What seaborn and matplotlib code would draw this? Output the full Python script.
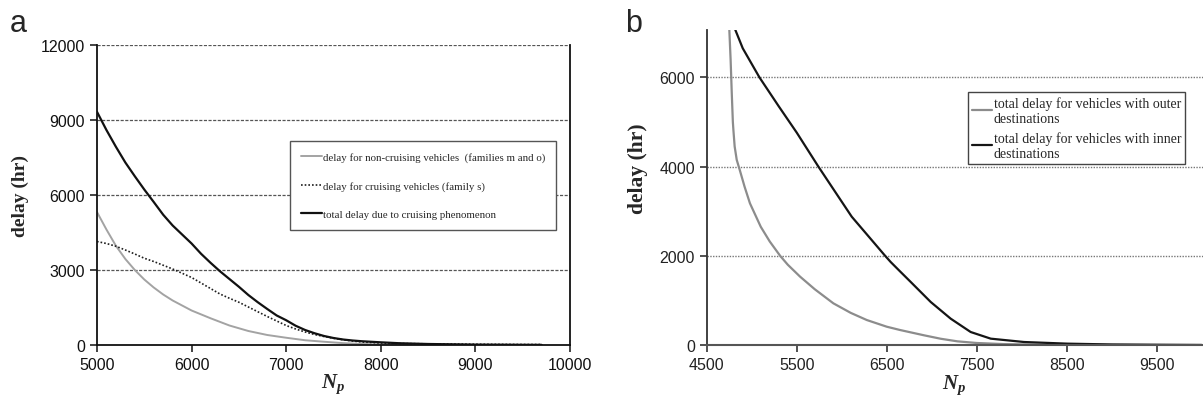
import matplotlib
matplotlib.use("Agg")
import matplotlib.pyplot as plt
import seaborn as sns
import pandas as pd

# ---------------- data: panel a ----------------
np_gray_a = [5000, 5100, 5200, 5300, 5400, 5500, 5600, 5700, 5800, 6000, 6200, 6400,
             6600, 6800, 7000, 7200, 7400, 7600, 7800, 8000, 8500, 9000, 9700]
delay_noncruise = [5320, 4620, 3970, 3440, 3000, 2620, 2300, 2020, 1780, 1380, 1070, 780,
                   560, 400, 290, 190, 130, 75, 40, 20, 6, 2, 0]

np_dot_a = [5000, 5100, 5200, 5300, 5400, 5500, 5600, 5700, 5800, 5900, 6000, 6100, 6200,
            6300, 6400, 6500, 6600, 6700, 6800, 6900, 7000, 7100, 7200, 7300, 7400, 7500,
            7600, 7700, 7800, 8000, 8200, 8500, 9000, 9500, 9700]
delay_cruise = [4140, 4060, 3950, 3800, 3640, 3470, 3340, 3190, 3040, 2870, 2700, 2480, 2260,
                2040, 1870, 1710, 1520, 1330, 1140, 960, 780, 640, 520, 420, 340, 270,
                210, 160, 120, 80, 60, 45, 30, 20, 20]

np_tot_a = [5000, 5100, 5200, 5300, 5400, 5500, 5600, 5700, 5800, 5900, 6000, 6100, 6200,
            6300, 6400, 6500, 6600, 6700, 6800, 6900, 7000, 7100, 7200, 7300, 7400, 7500,
            7600, 7700, 7800, 8000, 8200, 8500, 9000, 9700]
delay_total = [9330, 8600, 7930, 7300, 6750, 6220, 5720, 5210, 4780, 4420, 4060, 3650, 3290,
               2950, 2640, 2330, 2000, 1710, 1440, 1180, 990, 770, 600, 470, 360, 280,
               220, 180, 150, 107, 70, 40, 15, 5]

labels_a = ["delay for non-cruising vehicles  (families m and o)",
            "delay for cruising vehicles (family s)",
            "total delay due to cruising phenomenon"]

# ---------------- data: panel b ----------------
np_outer = [4750, 4765, 4778, 4790, 4796, 4810, 4833, 4870, 4920, 4980, 5100, 5200, 5315,
            5400, 5537, 5700, 5907, 6100, 6278, 6500, 6648, 6915, 7100, 7285, 7500, 7800,
            8200, 8600, 9000, 10000]
delay_outer = [7100, 6400, 5640, 5000, 4820, 4450, 4150, 3900, 3550, 3175, 2650, 2320, 2000,
               1800, 1532, 1250, 934, 720, 560, 410, 336, 217, 140, 82, 45, 20,
               8, 3, 1, 0]

np_inner = [4780, 4900, 5085, 5300, 5500, 5741, 5900, 6111, 6300, 6481, 6544, 6648, 6767,
            6989, 7211, 7433, 7656, 8026, 8507, 9000, 9507, 10000]
delay_inner = [7250, 6650, 6000, 5350, 4760, 3997, 3515, 2876, 2430, 2002, 1860, 1650, 1412,
               964, 590, 291, 142, 67, 30, 12, 5, 0]

labels_b = ["total delay for vehicles with outer\ndestinations",
            "total delay for vehicles with inner\ndestinations"]

xticks_a = [5000, 6000, 7000, 8000, 9000, 10000]
yticks_a = [0, 3000, 6000, 9000, 12000]
xticks_b = [4500, 5500, 6500, 7500, 8500, 9500]
yticks_b = [0, 2000, 4000, 6000]

# ---------------- style ----------------
sns.set_style("ticks")
plt.rcParams['font.family'] = ['Liberation Sans', 'DejaVu Sans']
plt.rcParams['mathtext.fontset'] = 'custom'
plt.rcParams['mathtext.rm'] = 'Liberation Serif'
plt.rcParams['mathtext.it'] = 'Liberation Serif:italic'
plt.rcParams['mathtext.bf'] = 'Liberation Serif:bold'
plt.rcParams['mathtext.bfit'] = 'Liberation Serif:italic:bold'
plt.rcParams['lines.solid_joinstyle'] = 'round'

serif = ['Liberation Serif', 'DejaVu Serif']
tick_fs = 11.5

fig = plt.figure(figsize=(12.03, 4.06), dpi=100)
ax1 = fig.add_axes([0.0806, 0.1478, 0.3932, 0.7389])
ax2 = fig.add_axes([0.5875, 0.1478, 0.4125, 0.7747])

# ---------------- panel a ----------------
df_g = pd.DataFrame({"Np": np_gray_a, "delay": delay_noncruise})
df_d = pd.DataFrame({"Np": np_dot_a, "delay": delay_cruise})
df_t = pd.DataFrame({"Np": np_tot_a, "delay": delay_total})
sns.lineplot(data=df_g, x="Np", y="delay", ax=ax1, color="#a3a3a3", linewidth=1.4, label=labels_a[0])
sns.lineplot(data=df_d, x="Np", y="delay", ax=ax1, color="#1e1e1e", linewidth=1.2,
             linestyle=(0, (1.0, 1.2)), label=labels_a[1])
sns.lineplot(data=df_t, x="Np", y="delay", ax=ax1, color="#111111", linewidth=1.6, label=labels_a[2])

ax1.set_xlim(5000, 10000)
ax1.set_ylim(0, 12000)
ax1.set_xticks(xticks_a)
ax1.set_yticks(yticks_a)
ax1.set_xticklabels([str(v) for v in xticks_a])
ax1.set_yticklabels([str(v) for v in yticks_a])
for y in yticks_a[1:]:
    ax1.axhline(y, color="#555555", linewidth=0.9, linestyle=(0, (2.5, 1.2)), zorder=0)
ax1.spines['top'].set_visible(False)
for s in ['left', 'bottom', 'right']:
    ax1.spines[s].set_color('#111111')
    ax1.spines[s].set_linewidth(1.3)
ax1.tick_params(axis='both', direction='out', length=5, width=1.1, labelsize=tick_fs, colors='#111111')

ax1.set_ylabel("delay (hr)", fontsize=14, fontweight='bold', family=serif)
ax1.yaxis.set_label_coords(-0.163, 0.5)
ax1.yaxis.label.set_va('center')
ax1.set_xlabel(r'$\mathbfit{N}_{\mathbfit{p}}$', fontsize=15)
ax1.xaxis.set_label_coords(0.499, -0.09)

leg1 = ax1.legend(loc='upper left', bbox_to_anchor=((290 - 97) / 473, (346 - 142) / 300),
                  prop={'family': serif, 'size': 7.8}, frameon=True, fancybox=False,
                  edgecolor='#555555', handlelength=2.0, handletextpad=0.05,
                  labelspacing=1.75, borderpad=1.0, borderaxespad=0)
leg1.get_frame().set_linewidth(1.0)
leg1.get_frame().set_alpha(1)

# ---------------- panel b ----------------
df_o = pd.DataFrame({"Np": np_outer, "delay": delay_outer})
df_i = pd.DataFrame({"Np": np_inner, "delay": delay_inner})
sns.lineplot(data=df_o, x="Np", y="delay", ax=ax2, color="#8c8c8c", linewidth=1.6, label=labels_b[0])
sns.lineplot(data=df_i, x="Np", y="delay", ax=ax2, color="#151515", linewidth=1.6, label=labels_b[1])

ax2.set_xlim(4500, 10015)
ax2.set_ylim(0, 7050)
ax2.set_xticks(xticks_b)
ax2.set_yticks(yticks_b)
ax2.set_xticklabels([str(v) for v in xticks_b])
ax2.set_yticklabels([str(v) for v in yticks_b])
for y in yticks_b[1:]:
    ax2.axhline(y, color="#777777", linewidth=1.0, linestyle=(0, (1.0, 1.0)), zorder=0)
ax2.spines['top'].set_visible(False)
ax2.spines['right'].set_visible(False)
ax2.spines['left'].set_color('#333333')
ax2.spines['bottom'].set_color('#555555')
ax2.spines['left'].set_linewidth(1.3)
ax2.spines['bottom'].set_linewidth(1.5)
ax2.tick_params(axis='both', direction='out', length=5, width=1.1, labelsize=tick_fs, colors='#222222')

ax2.set_ylabel("delay (hr)", fontsize=15.5, fontweight='bold', family=serif)
ax2.yaxis.set_label_coords(-0.138, 0.564)
ax2.yaxis.label.set_va('center')
ax2.set_xlabel(r'$\mathbfit{N}_{\mathbfit{p}}$', fontsize=15)
ax2.xaxis.set_label_coords(0.498, -0.088)

leg2 = ax2.legend(loc='upper left', bbox_to_anchor=((968 - 706.7) / 496.3, (346.3 - 93) / 314.6),
                  prop={'family': serif, 'size': 10}, frameon=True, fancybox=False,
                  edgecolor='#444444', handlelength=1.4, handletextpad=0.15,
                  labelspacing=0.45, borderpad=0.3, borderaxespad=0)
leg2.get_frame().set_linewidth(1.0)
leg2.get_frame().set_alpha(1)

# panel letters
fig.text(10 / 1203, 1 - 32 / 406, "a", fontsize=22, va='baseline', ha='left')
fig.text(625 / 1203, 1 - 32 / 406, "b", fontsize=22, va='baseline', ha='left')

fig.savefig("out.png", dpi=100)
